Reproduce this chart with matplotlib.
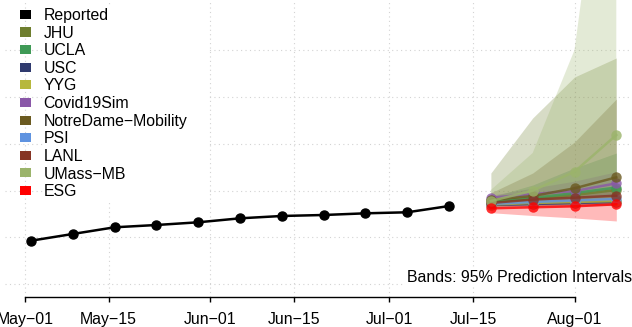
import matplotlib
matplotlib.use("Agg")
import matplotlib.pyplot as plt
import matplotlib.dates as mdates
from matplotlib.patches import Patch, Rectangle
import numpy as np
import datetime as dt

plt.rcParams['font.family'] = ['Liberation Sans', 'DejaVu Sans']

# observed weekly counts
obs_dates = ["2020-05-02", "2020-05-09", "2020-05-16", "2020-05-23", "2020-05-30", "2020-06-06",
             "2020-06-13", "2020-06-20", "2020-06-27", "2020-07-04", "2020-07-11"]
obs_vals = [1926, 2070, 2213, 2262, 2320, 2405, 2455, 2476, 2512, 2534, 2668]

fc_dates = ["2020-07-18", "2020-07-25", "2020-08-01", "2020-08-08"]

models = ["JHU", "UCLA", "USC", "YYG", "Covid19Sim", "NotreDame\u2212Mobility",
          "PSI", "LANL", "UMass\u2212MB", "ESG"]
colors = ["#6E7E2E", "#3F9A56", "#2F3A6E", "#B7B83C", "#8A58A8", "#6B5A20",
          "#5F93E0", "#863424", "#9BB46B", "#FF0000"]

point = {
    "JHU": [2775, 2818, 2904, 3011],
    "UCLA": [2754, 2840, 2946, 3064],
    "USC": [2690, 2711, 2733, 2754],
    "YYG": [2700, 2733, 2754, 2775],
    "Covid19Sim": [2846, 2925, 2989, 3154],
    "NotreDame\u2212Mobility": [2797, 2882, 3047, 3282],
    "PSI": [2711, 2754, 2786, 2818],
    "LANL": [2733, 2807, 2846, 2889],
    "UMass\u2212MB": [2775, 2996, 3402, 4187],
    "ESG": [2619, 2641, 2662, 2705],
}
lower = {
    "JHU": [2680, 2690, 2700, 2710],
    "UCLA": [2700, 2760, 2820, 2880],
    "USC": [2650, 2660, 2670, 2680],
    "YYG": [2660, 2670, 2680, 2690],
    "Covid19Sim": [2780, 2820, 2860, 2900],
    "NotreDame\u2212Mobility": [2700, 2750, 2800, 2850],
    "PSI": [2670, 2690, 2700, 2710],
    "LANL": [2690, 2720, 2740, 2760],
    "UMass\u2212MB": [2680, 2700, 2750, 2800],
    "ESG": [2525, 2465, 2412, 2348],
}
upper = {
    "JHU": [3374, 4551, 5428, 5835],
    "UCLA": [2860, 3118, 3481, 3802],
    "USC": [2730, 2760, 2800, 2830],
    "YYG": [2760, 2820, 2880, 2940],
    "Covid19Sim": [2900, 3050, 3200, 3402],
    "NotreDame\u2212Mobility": [2950, 3374, 4037, 4957],
    "PSI": [2760, 2820, 2880, 2940],
    "LANL": [2800, 2900, 2980, 3050],
    "UMass\u2212MB": [3011, 3802, 6005, 12680],
    "ESG": [2711, 2733, 2765, 2818],
}

tick_dates = ["2020-05-01", "2020-05-15", "2020-06-01", "2020-06-15", "2020-07-01", "2020-07-15", "2020-08-01"]
tick_labels = ["May\u221201", "May\u221215", "Jun\u221201", "Jun\u221215", "Jul\u221201", "Jul\u221215", "Aug\u221201"]
grid_y = [1000, 2000, 3000, 4000, 5000, 6000]


def d(s):
    return mdates.date2num(dt.datetime.strptime(s, "%Y-%m-%d"))


W, H = 632, 327
fig = plt.figure(figsize=(W / 100, H / 100), dpi=100)
ax = fig.add_axes([5 / W, (H - 297) / H, 627 / W, 297 / H])

x_obs = [d(s) for s in obs_dates]
x_fc = [d(s) for s in fc_dates]
x_ticks = [d(s) for s in tick_dates]

day_px = (574.5 - 25) / 92
ax.set_xlim(x_ticks[0] - 20 / day_px, x_ticks[0] + 607 / day_px)
ax.set_ylim(1000 - 13 * 1000 / 46.75, 1000 + 284 * 1000 / 46.75)

# grid
for gx in x_ticks:
    ax.axvline(gx, color="#D3D3D3", lw=0.8, ls=(0, (1, 3)), zorder=0)
for gy in grid_y:
    ax.axhline(gy, color="#D3D3D3", lw=0.8, ls=(0, (1, 3)), zorder=0)

# bands
for m, c in zip(models, colors):
    ax.fill_between(x_fc, lower[m], upper[m], color=c, alpha=0.27, lw=0, zorder=2)

# forecasts
for m, c in zip(models, colors):
    ax.plot(x_fc, point[m], color=c, lw=1.8, marker="o", ms=7.5, mew=0, alpha=0.8, zorder=3)

ax.plot(x_obs, obs_vals, color="black", lw=1.8, marker="o", ms=6.5, zorder=4)

for s in ["top", "right", "left"]:
    ax.spines[s].set_visible(False)
ax.spines["bottom"].set_bounds(x_ticks[0], x_ticks[-1])
ax.spines["bottom"].set_linewidth(1.0)
ax.set_yticks([])
ax.set_xticks(x_ticks)
ax.set_xticklabels(tick_labels, fontsize=11.4)
ax.tick_params(axis="x", length=3.5, width=1.0, pad=7.5)

# white backing for the legend text
ax.add_patch(Rectangle((38 / 627, 1 - 203 / 297), 165 / 627, 197 / 297, transform=ax.transAxes,
                       facecolor="white", edgecolor="none", zorder=1))

handles = [Patch(facecolor="black", edgecolor="none", label="Reported")]
handles += [Patch(facecolor=c, edgecolor="none", label=m) for m, c in zip(models, colors)]
leg = ax.legend(handles=handles, loc="upper left", bbox_to_anchor=(15 / 627, 1 - 8 / 297),
                frameon=False, fontsize=11.4, handlelength=0.7, handleheight=0.5,
                handletextpad=0.8, labelspacing=0.165, borderpad=0, borderaxespad=0)
leg.set_zorder(5)

ax.text(1.0, 1 - 277 / 297, "Bands: 95% Prediction Intervals", transform=ax.transAxes,
        ha="right", va="center", fontsize=11.4, zorder=5,
        bbox=dict(facecolor="white", edgecolor="none", pad=1))

fig.savefig("out.png", dpi=100)
